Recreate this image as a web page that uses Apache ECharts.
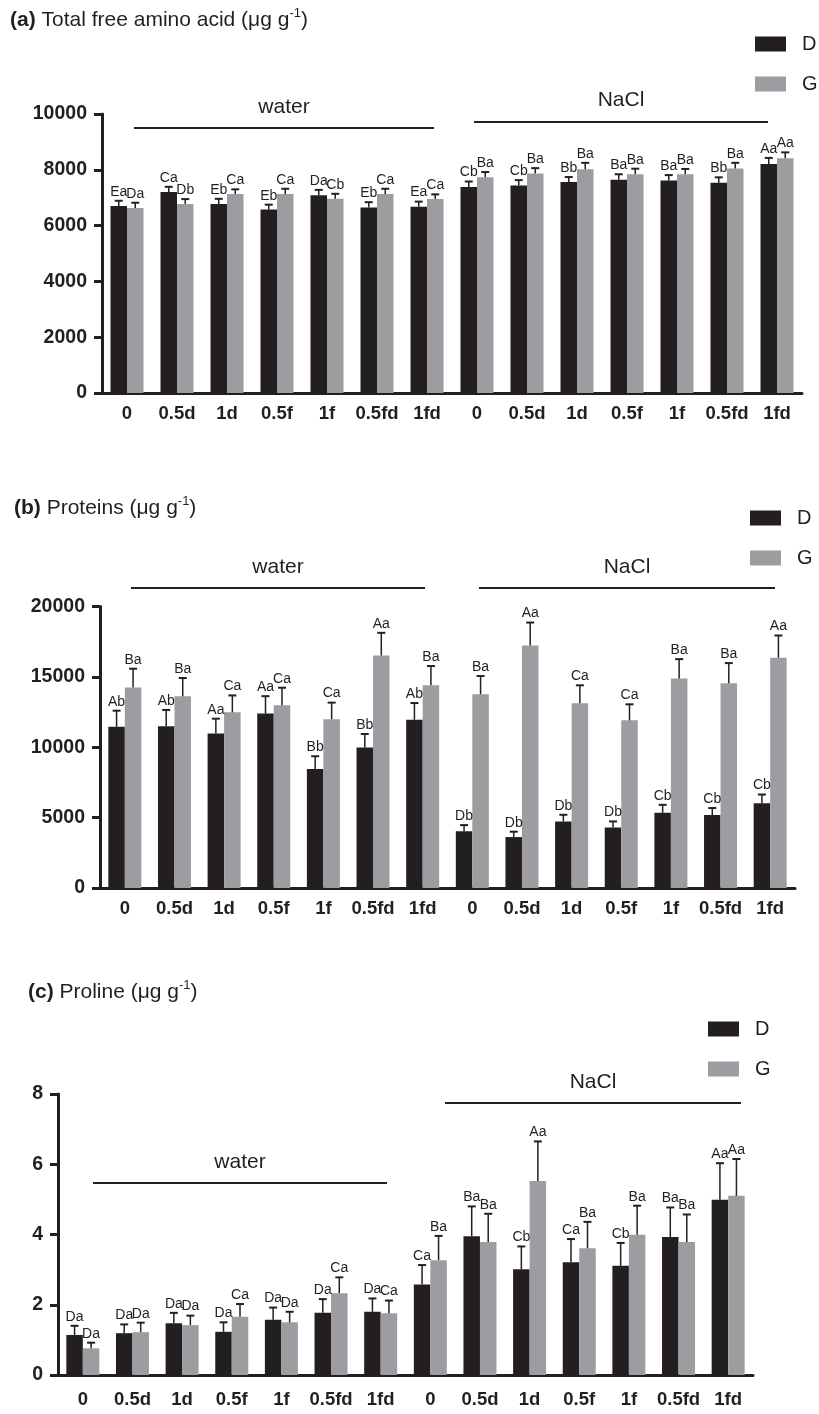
<!DOCTYPE html>
<html>
<head>
<meta charset="utf-8">
<script src="https://cdn.jsdelivr.net/npm/echarts@6/dist/echarts.min.js"></script>
<style>
  html, body { margin: 0; padding: 0; background: #fff; }
  #chart { width: 819px; height: 1414px; }
</style>
</head>
<body>
<div id="chart"></div>
<script>
  // treatments, water block then NaCl block
  var treatments = ['0', '0.5d', '1d', '0.5f', '1f', '0.5fd', '1fd',
    '0', '0.5d', '1d', '0.5f', '1f', '0.5fd', '1fd']

  // (a) total free amino acid
  var aminoD = [6700, 7200, 6770, 6580, 7090, 6650, 6680, 7380, 7440, 7560, 7640, 7620, 7540, 8210]
  var aminoDErr = [190, 190, 190, 170, 190, 190, 180, 200, 190, 180, 200, 190, 190, 215]
  var aminoG = [6630, 6770, 7130, 7130, 6960, 7130, 6950, 7730, 7870, 8020, 7840, 7840, 8050, 8410]
  var aminoGErr = [190, 180, 170, 190, 180, 190, 170, 190, 190, 230, 200, 190, 200, 215]
  var aminoDLab = ['Ea', 'Ca', 'Eb', 'Eb', 'Da', 'Eb', 'Ea', 'Cb', 'Cb', 'Bb', 'Ba', 'Ba', 'Bb', 'Aa']
  var aminoGLab = ['Da', 'Db', 'Ca', 'Ca', 'Cb', 'Ca', 'Ca', 'Ba', 'Ba', 'Ba', 'Ba', 'Ba', 'Ba', 'Aa']

  // (b) proteins
  var protD = [11450, 11500, 10970, 12400, 8460, 9980, 11960, 4040, 3620, 4730, 4300, 5340, 5180, 6030]
  var protDErr = [1150, 1150, 1060, 1230, 900, 960, 1180, 430, 380, 470, 430, 570, 500, 610]
  var protG = [14250, 13620, 12480, 12980, 11990, 16520, 14400, 13760, 17230, 13120, 11910, 14890, 14540, 16360]
  var protGErr = [1330, 1300, 1200, 1250, 1180, 1610, 1370, 1300, 1630, 1280, 1140, 1370, 1440, 1580]
  var protDLab = ['Ab', 'Ab', 'Aa', 'Aa', 'Bb', 'Bb', 'Ab', 'Db', 'Db', 'Db', 'Db', 'Cb', 'Cb', 'Cb']
  var protGLab = ['Ba', 'Ba', 'Ca', 'Ca', 'Ca', 'Aa', 'Ba', 'Ba', 'Aa', 'Ca', 'Ca', 'Ba', 'Ba', 'Aa']

  // (c) proline
  var prolD = [1.14, 1.19, 1.47, 1.23, 1.57, 1.77, 1.80, 2.58, 3.95, 3.01, 3.21, 3.11, 3.93, 4.99]
  var prolDErr = [0.26, 0.25, 0.30, 0.27, 0.35, 0.39, 0.38, 0.55, 0.85, 0.65, 0.66, 0.65, 0.84, 1.04]
  var prolG = [0.76, 1.22, 1.42, 1.66, 1.50, 2.33, 1.76, 3.27, 3.79, 5.52, 3.61, 3.99, 3.79, 5.10]
  var prolGErr = [0.16, 0.27, 0.27, 0.36, 0.30, 0.45, 0.36, 0.69, 0.80, 1.13, 0.75, 0.83, 0.78, 1.05]
  var prolDLab = ['Da', 'Da', 'Da', 'Da', 'Da', 'Da', 'Da', 'Ca', 'Ba', 'Cb', 'Ca', 'Cb', 'Ba', 'Aa']
  var prolGLab = ['Da', 'Da', 'Da', 'Ca', 'Da', 'Ca', 'Ca', 'Ba', 'Ba', 'Aa', 'Ba', 'Ba', 'Ba', 'Aa']

  var yMax = [10000, 20000, 8]
  var yStep = [2000, 5000, 2]

  var DARK = '#231f20'
  var GREY = '#9d9ca1'
  var FONT = 'Liberation Sans, Arial, Helvetica, sans-serif'
  var BAR_W = 16.5

  var grids = [
    { left: 102, top: 114, width: 700, height: 279 },
    { left: 100, top: 606.5, width: 695, height: 281.5 },
    { left: 58, top: 1094, width: 695, height: 281 }
  ]
  var xMargins = [11, 11, 15]

  var panels = [
    { d: aminoD, de: aminoDErr, g: aminoG, ge: aminoGErr, dl: aminoDLab, gl: aminoGLab },
    { d: protD, de: protDErr, g: protG, ge: protGErr, dl: protDLab, gl: protGLab },
    { d: prolD, de: prolDErr, g: prolG, ge: prolGErr, dl: prolDLab, gl: prolGLab }
  ]

  function errRenderer(side, labels) {
    return function (params, api) {
      var i = api.value(0)
      var base = api.coord([i, api.value(1)])
      var top = api.coord([i, api.value(1) + api.value(2)])
      var x = base[0] + side * BAR_W / 2
      return {
        type: 'group',
        children: [
          { type: 'line', shape: { x1: x, y1: base[1], x2: x, y2: top[1] },
            style: { stroke: DARK, lineWidth: 1.5 } },
          { type: 'line', shape: { x1: x - 4, y1: top[1], x2: x + 4, y2: top[1] },
            style: { stroke: DARK, lineWidth: 2 } },
          { type: 'text', style: {
            text: labels[params.dataIndex], x: x, y: top[1] - 2,
            align: 'center', verticalAlign: 'bottom',
            textAlign: 'center', textVerticalAlign: 'bottom',
            font: '14px ' + FONT, fill: DARK } }
        ]
      }
    }
  }

  var xAxes = [], yAxes = [], series = []
  panels.forEach(function (p, k) {
    xAxes.push({
      type: 'category', gridIndex: k,
      data: treatments.map(function (t, i) { return 'c' + i }),
      axisLine: { lineStyle: { color: DARK, width: 3 } },
      axisTick: { alignWithLabel: true, interval: 0, length: 8, lineStyle: { color: DARK, width: 3 } },
      axisLabel: {
        interval: 0, margin: xMargins[k], fontSize: 18.5, fontWeight: 'bold', color: DARK, fontFamily: FONT,
        formatter: function (v, i) { return treatments[i] }
      }
    })
    yAxes.push({
      type: 'value', gridIndex: k, min: 0, max: yMax[k], interval: yStep[k],
      axisLine: { show: true, lineStyle: { color: DARK, width: 3 } },
      axisTick: { show: true, length: 8, lineStyle: { color: DARK, width: 3 } },
      splitLine: { show: false },
      axisLabel: {
        margin: 15, fontSize: 19.5, fontWeight: 'bold', color: DARK, fontFamily: FONT,
        formatter: function (v) { return String(v) }
      }
    })
    series.push({
      type: 'bar', name: 'D', xAxisIndex: k, yAxisIndex: k, data: p.d,
      barWidth: BAR_W, barGap: '0%', itemStyle: { color: DARK }
    })
    series.push({
      type: 'bar', name: 'G', xAxisIndex: k, yAxisIndex: k, data: p.g,
      barWidth: BAR_W, barGap: '0%', itemStyle: { color: GREY }
    })
    series.push({
      type: 'custom', name: 'D', xAxisIndex: k, yAxisIndex: k, z: 5,
      data: p.d.map(function (v, i) { return [i, v, p.de[i]] }),
      encode: { x: 0, y: 1 },
      renderItem: errRenderer(-1, p.dl)
    })
    series.push({
      type: 'custom', name: 'G', xAxisIndex: k, yAxisIndex: k, z: 5,
      data: p.g.map(function (v, i) { return [i, v, p.ge[i]] }),
      encode: { x: 0, y: 1 },
      renderItem: errRenderer(1, p.gl)
    })
  })

  var titleRich = {
    b: { fontSize: 21, fontWeight: 'bold', color: DARK, fontFamily: FONT, lineHeight: 26 },
    n: { fontSize: 21, fontWeight: 'normal', color: DARK, fontFamily: FONT, lineHeight: 26 },
    s: { fontSize: 13, fontWeight: 'normal', color: DARK, fontFamily: FONT, verticalAlign: 'top', lineHeight: 13 }
  }
  function makeTitle(tag, name, left, top) {
    return {
      left: left, top: top, padding: 0,
      text: '{b|(' + tag + ')}{n| ' + name + ' (μg g}{s|-1}{n|)}',
      textStyle: { fontWeight: 'normal', rich: titleRich }
    }
  }

  function makeLegend(left, top) {
    return {
      left: left, top: top, orient: 'vertical', icon: 'rect',
      itemWidth: 31, itemHeight: 15, itemGap: 20, selectedMode: false,
      data: ['D', 'G'], padding: 0,
      textStyle: { fontSize: 20, color: DARK, fontFamily: FONT, lineHeight: 19, padding: [0, 0, 0, 11] }
    }
  }

  function bracket(x1, x2, y, label, ty) {
    return [
      { type: 'line', shape: { x1: x1, y1: y, x2: x2, y2: y }, style: { stroke: DARK, lineWidth: 2 } },
      { type: 'text', x: (x1 + x2) / 2, y: ty, style: {
        text: label, font: '21px ' + FONT, fill: DARK,
        align: 'center', verticalAlign: 'middle', textAlign: 'center', textVerticalAlign: 'middle' } }
    ]
  }

  var graphics = [].concat(
    bracket(134, 434, 128, 'water', 107),
    bracket(474, 768, 122, 'NaCl', 100),
    bracket(131, 425, 588, 'water', 567),
    bracket(479, 775, 588, 'NaCl', 567),
    bracket(93, 387, 1183, 'water', 1162),
    bracket(445, 741, 1103, 'NaCl', 1082)
  )

  var chart = echarts.init(document.getElementById('chart'))
  chart.setOption({
    animation: false,
    backgroundColor: '#fff',
    textStyle: { fontFamily: FONT },
    title: [
      makeTitle('a', 'Total free amino acid', 10, 7),
      makeTitle('b', 'Proteins', 14, 495),
      makeTitle('c', 'Proline', 28, 979)
    ],
    legend: [makeLegend(755, 34), makeLegend(750, 508), makeLegend(708, 1019)],
    grid: grids,
    xAxis: xAxes,
    yAxis: yAxes,
    series: series,
    graphic: graphics
  })
</script>
</body>
</html>
